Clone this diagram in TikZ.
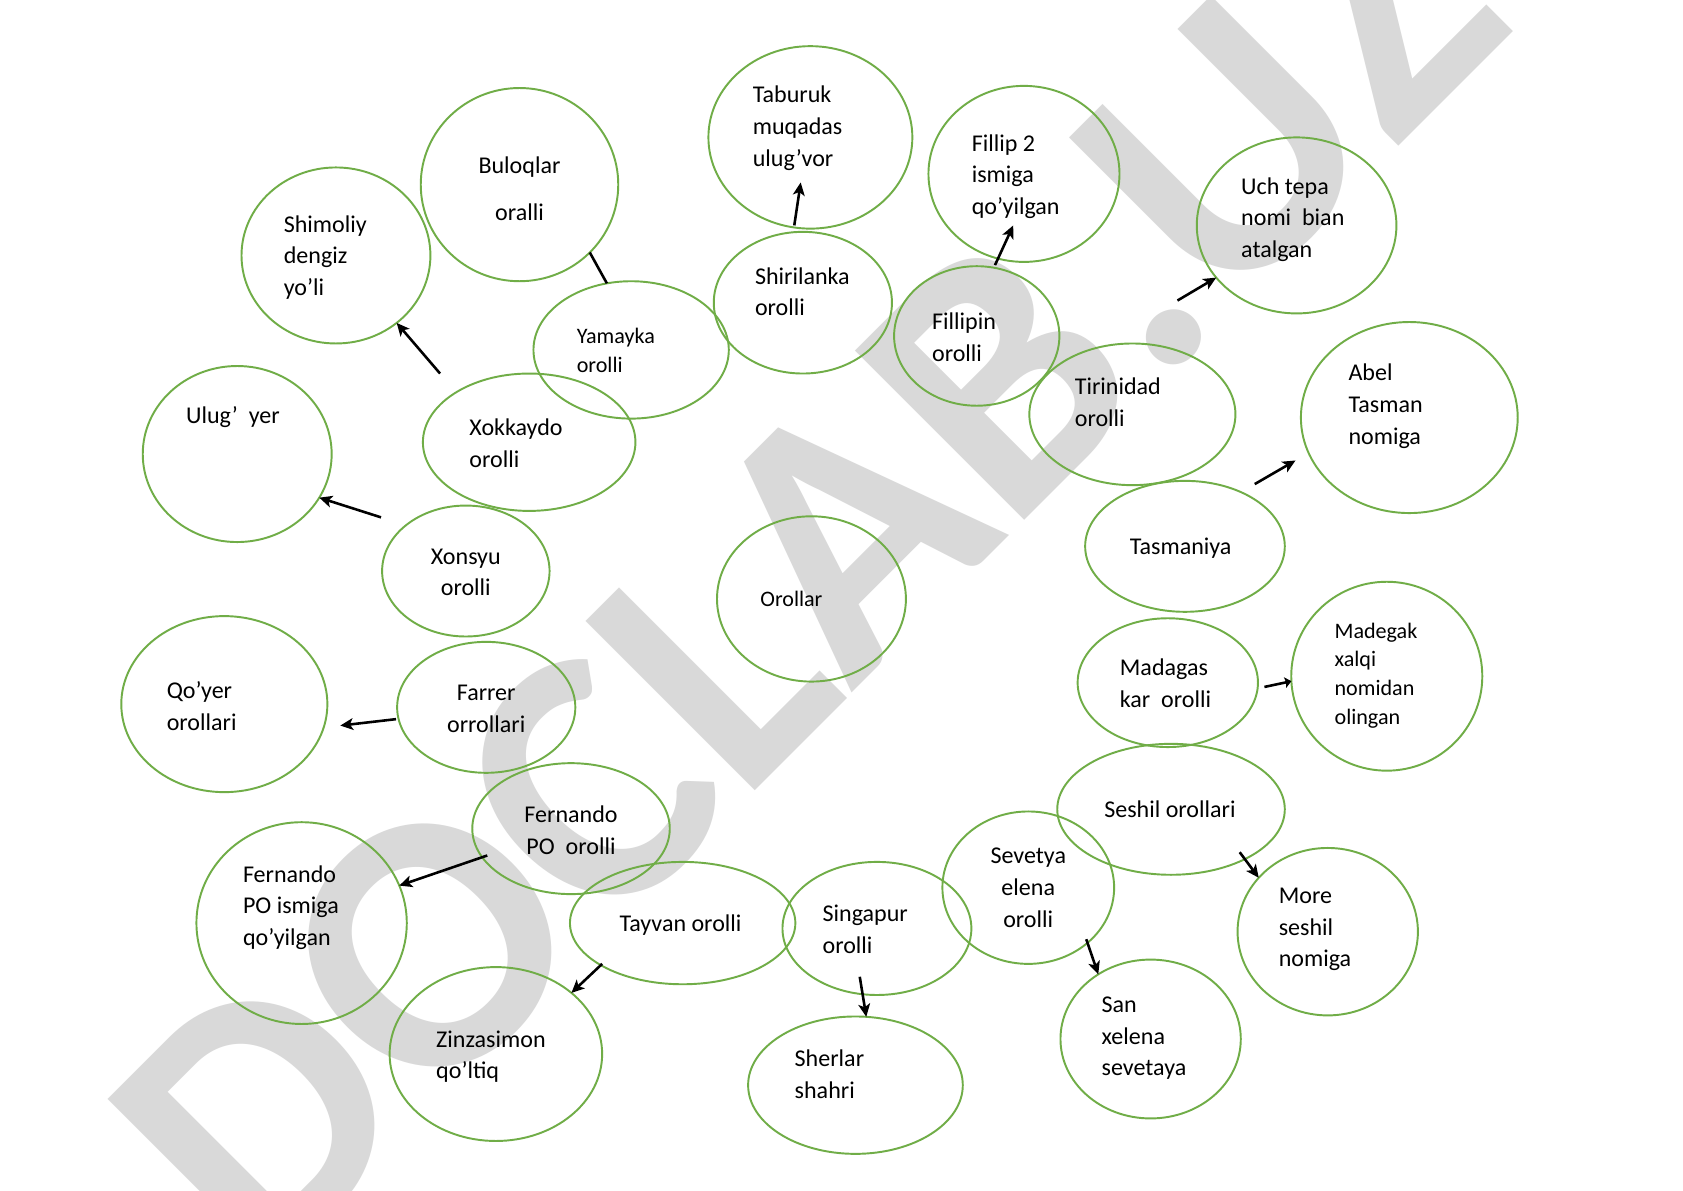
\documentclass[tikz,border=0pt]{standalone}
\usepackage{fontspec}
\setmainfont{Carlito}
\usetikzlibrary{shapes.geometric,arrows.meta}
\definecolor{islgreen}{HTML}{70AD47}
\definecolor{wmgray}{HTML}{D9D9D9}
\tikzset{
  island/.style={ellipse, draw=islgreen, line width=0.9pt, inner sep=0pt, outer sep=0pt},
  txt/.style={font=\fontsize{11.2}{14.75}\selectfont, align=left, inner sep=0pt, anchor=west, yshift=-1pt},
  ctxt/.style={font=\fontsize{11.2}{14.75}\selectfont, align=center, inner sep=0pt, anchor=center, yshift=-1pt},
  stxt/.style={font=\fontsize{10.3}{13.5}\selectfont, align=left, inner sep=0pt, anchor=west, yshift=-1pt},
  arr/.style={line width=1.2pt, -{Stealth[length=6pt,width=5.5pt,inset=1.5pt]}},
  link/.style={line width=1.2pt},
  wmark/.style={rotate=45, anchor=base west, inner sep=0pt, text=wmgray,
    font=\fontsize{172}{172}\selectfont\bfseries},
}
\newcommand\isl[5]{\node[island, minimum width=#4pt, minimum height=#5pt] (#1) at (#2,#3) {};}
\newcommand\SL{\strut}
\begin{document}
\begin{tikzpicture}[x=0.5pt, y=-0.5pt]
\useasboundingbox (0,0) rectangle (1568,1109);
\fill[white] (0,0) rectangle (1568,1109);
% watermark
\node[wmark] (wm) at (244,1196) {DOCLAB.UZ};
% islands
\isl{bul}{484}{172}{92}{90}
\isl{shim}{313}{238}{88}{82}
\isl{tab}{755}{128}{95}{85}
\isl{shir}{748}{282}{83}{66}
\isl{yam}{588}{326}{91}{64}
\isl{fil}{954}{162}{89}{82}
\isl{uch}{1208}{210}{93}{82}
\isl{fpin}{910}{313}{77}{65}
\isl{tir}{1055}{386}{96}{66}
\isl{abel}{1313}{389}{101}{89}
\isl{ulug}{221}{423}{88}{82}
\isl{xok}{493}{412}{99}{64}
\isl{xon}{434}{532}{78}{61}
\isl{tas}{1104}{509}{93}{61}
\isl{orol}{756}{558}{88}{77}
\isl{qoy}{209}{656}{96}{82}
\isl{far}{453}{659}{83}{61}
\isl{mad}{1088}{636}{84}{60}
\isl{madg}{1292}{630}{89}{88}
\isl{fern}{532}{772}{92}{61}
\isl{sesh}{1091}{754}{106}{61}
\isl{ferni}{281}{860}{98}{94}
\isl{tay}{636}{860}{105}{57}
\isl{sing}{817}{865}{88}{62}
\isl{sev}{958}{827}{80}{71}
\isl{more}{1237}{868}{84}{78}
\isl{zin}{462}{982}{99}{81}
\isl{sher}{797}{1011}{100}{64}
\isl{san}{1072}{968}{84}{74}
% texts
\node[ctxt, font=\fontsize{11.2}{22}\selectfont] (bult) at (484,173) {Buloqlar\SL\\oralli\SL};
\node[txt] (shimt) at (264,238) {Shimoliy\SL\\dengiz\SL\\yo’li\SL};
\node[txt] (tabt) at (701,117.5) {Taburuk\SL\\muqadas\SL\\ulug’vor\SL};
\node[txt] (shirt) at (703,271.5) {Shirilanka\SL\\orolli\SL};
\node[stxt] (yamt) at (537,326.5) {Yamayka\SL\\orolli\SL};
\node[txt] (filt) at (905,162.5) {Fillip 2\SL\\ismiga\SL\\qo’yilgan\SL};
\node[txt] (ucht) at (1156,202.5) {Uch tepa\SL\\nomi~ bian\SL\\atalgan\SL};
\node[txt] (fpint) at (868,314) {Fillipin\SL\\orolli\SL};
\node[txt] (tirt) at (1001,374.5) {Tirinidad\SL\\orolli\SL};
\node[txt] (abelt) at (1256,376.5) {Abel\SL\\Tasman\SL\\nomiga\SL};
\node[txt] (ulugt) at (173,387) {Ulug’~ yer\SL};
\node[txt] (xokt) at (437,413) {Xokkaydo\SL\\orolli\SL};
\node[ctxt] (xont) at (434,532.5) {Xonsyu\SL\\orolli\SL};
\node[ctxt] (tast) at (1100,509) {Tasmaniya\SL};
\node[stxt] (orolt) at (708,558) {Orollar\SL};
\node[txt] (qoyt) at (155,657.5) {Qo’yer\SL\\orollari\SL};
\node[ctxt] (fart) at (453,659.5) {Farrer\SL\\orrollari\SL};
\node[txt] (madt) at (1043,636.5) {Madagas\SL\\kar~ orolli\SL};
\node[stxt] (madgt) at (1243,627.5) {Madegak\SL\\xalqi\SL\\nomidan\SL\\olingan\SL};
\node[ctxt] (fernt) at (532,773) {Fernando\SL\\PO~ orolli\SL};
\node[ctxt] (sesht) at (1090,754) {Seshil orollari\SL};
\node[txt] (fernit) at (226,843.5) {Fernando\SL\\PO ismiga\SL\\qo’yilgan\SL};
\node[ctxt] (tayt) at (634,860) {Tayvan orolli\SL};
\node[txt] (singt) at (766,865.5) {Singapur\SL\\orolli\SL};
\node[ctxt] (sevt) at (958,826.5) {Sevetya\SL\\elena\SL\\orolli\SL};
\node[txt] (moret) at (1191,863.5) {More\SL\\seshil\SL\\nomiga\SL};
\node[txt] (zint) at (406,982.5) {Zinzasimon\SL\\qo’ltiq\SL};
\node[txt] (shert) at (740,1000.5) {Sherlar\SL\\shahri\SL};
\node[txt] (sant) at (1026,965) {San\SL\\xelena\SL\\sevetaya\SL};
% arrow start points
\coordinate (s1) at (410,348);
\coordinate (s2) at (740,210);
\coordinate (s3) at (927,247);
\coordinate (s4) at (1097,280);
\coordinate (s5) at (1169,451);
\coordinate (s6) at (355,482);
\coordinate (s7) at (369,670);
\coordinate (s8) at (1178,640);
\coordinate (s9) at (454,797);
\coordinate (s10) at (561,898);
\coordinate (s11) at (801,910);
\coordinate (s12) at (1012,875);
\coordinate (s13) at (1155,794);
% arrow tips that stop inside or short of an island
\coordinate (e2) at (746,170);
\coordinate (e3) at (944,210);
\coordinate (e5) at (1207,429);
\coordinate (e7) at (317,676);
% connectors
\draw[link] (yam.110) -- (bul.-44);
\draw[arr] (s1) -- (shim.-48.6);
\draw[arr] (s2) -- (e2);
\draw[arr] (s3) -- (e3);
\draw[arr] (s4) -- (uch.-147);
\draw[arr] (s5) -- (e5);
\draw[arr] (s6) -- (ulug.-28);
\draw[arr] (s7) -- (e7);
\draw[line width=1.2pt, -{Stealth[length=3pt,width=5pt,inset=0.5pt]}] (s8) -- (madg.-177);
\draw[arr] (s9) -- (ferni.21.5);
\draw[arr] (s10) -- (zin.39.7);
\draw[arr] (s11) -- (sher.81.6);
\draw[arr] (s12) -- (san.129.3);
\draw[arr] (s13) -- (more.142);
\end{tikzpicture}
\end{document}
